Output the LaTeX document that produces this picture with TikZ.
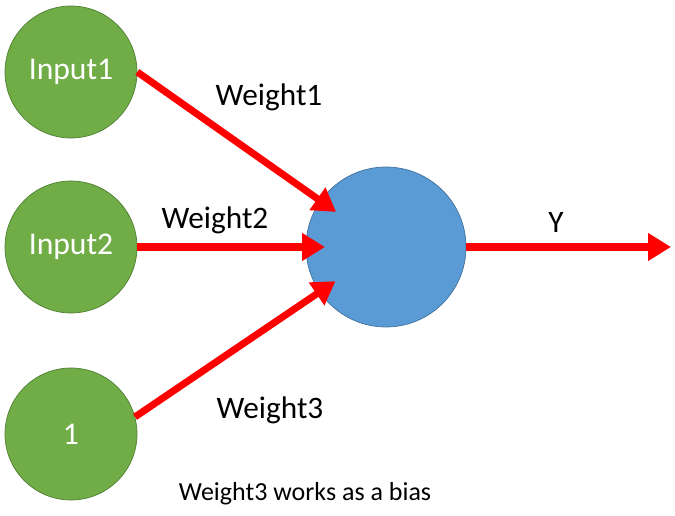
\documentclass[tikz,border=0pt]{standalone}
\usepackage{fontspec}
\setmainfont{Carlito}
\usetikzlibrary{arrows.meta}
\definecolor{leafgreen}{HTML}{70AD47}
\definecolor{leafedge}{HTML}{507E32}
\definecolor{cellblue}{HTML}{5B9BD5}
\definecolor{celledge}{HTML}{41719C}
\begin{document}
\begin{tikzpicture}[x=0.02cm,y=-0.02cm,
  inp/.style={circle,fill=leafgreen,draw=leafedge,minimum size=2.64cm,inner sep=0,text=white,font=\fontsize{18}{20}\selectfont},
  wire/.style={draw=red,line width=4pt,-{Triangle[length=13pt,width=15pt]},shorten >=-11pt},
  lbl/.style={font=\fontsize{17.8}{20}\selectfont}]
\useasboundingbox (0,0) rectangle (675,516);
\node[inp] (in1) at (71,72) {Input1};
\node[inp] (in2) at (71,247) {Input2};
\node[inp] (in3) at (71,434) {1};
\node[circle,fill=cellblue,draw=celledge,minimum size=3.2cm,inner sep=0] (hid) at (386,247) {};
\coordinate (out) at (671,247);
\draw[wire] (in1.east) -- (hid);
\draw[wire] (in2.east) -- (hid);
\draw[wire] (in3.15) -- (hid);
\draw[wire,shorten >=0pt] (hid) -- (out);
\node[lbl] (w1) at (269,97) {Weight1};
\node[lbl] (w2) at (215,220) {Weight2};
\node[lbl] (w3) at (270,410) {Weight3};
\node[lbl] (y) at (556,222) {Y};
\node[font=\fontsize{14.8}{17}\selectfont] (note) at (305,494) {Weight3 works as a bias};
\end{tikzpicture}
\end{document}
